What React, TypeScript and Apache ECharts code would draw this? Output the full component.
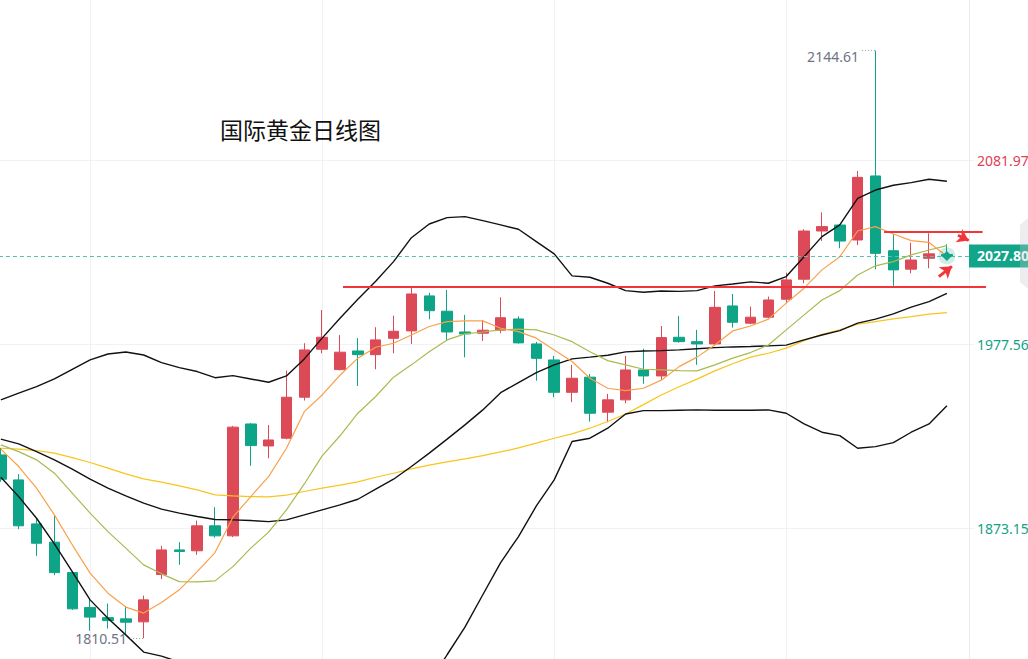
import React, { useEffect, useRef } from "react";
import * as echarts from "echarts";

// ---------- DATA ----------
const categories = [
  "09-26", "09-27", "09-28", "09-29", "10-02", "10-03", "10-04", "10-05", "10-06", "10-09",
  "10-10", "10-11", "10-12", "10-13", "10-16", "10-17", "10-18", "10-19", "10-20", "10-23",
  "10-24", "10-25", "10-26", "10-27", "10-30", "10-31", "11-01", "11-02", "11-03", "11-06",
  "11-07", "11-08", "11-09", "11-10", "11-13", "11-14", "11-15", "11-16", "11-17", "11-20",
  "11-21", "11-22", "11-23", "11-24", "11-27", "11-28", "11-29", "11-30", "12-01", "12-04",
  "12-05", "12-06", "12-07", "12-08", "",
];

const opens = [
  1914.7, 1900.5, 1875.5, 1865.1, 1847.8, 1827.9, 1822.2, 1821.5, 1819.8, 1846.7,
  1860.7, 1860.2, 1874.4, 1868.7, 1932.3, 1919.8, 1924.2, 1947.5, 1974.8, 1963.2,
  1973.8, 1971.7, 1981.0, 1985.2, 2005.1, 1996.4, 1984.6, 1983.9, 1985.6, 1992.0,
  1977.8, 1968.7, 1950.3, 1958.9, 1939.0, 1946.0, 1963.0, 1959.6, 1981.6, 1979.1,
  1977.8, 1999.4, 1989.6, 1993.0, 2003.2, 2014.6, 2042.0, 2045.4, 2036.9, 2073.3,
  2030.8, 2020.3, 2026.5, 2028.6,
];
const closes = [
  1900.9, 1874.4, 1864.5, 1847.8, 1827.2, 1822.5, 1820.5, 1819.6, 1832.3, 1860.7,
  1859.8, 1874.4, 1868.7, 1930.5, 1920.0, 1923.2, 1947.5, 1974.4, 1981.6, 1973.1,
  1971.7, 1980.1, 1985.0, 2006.2, 1996.7, 1984.6, 1983.5, 1985.6, 1992.7, 1978.4,
  1969.6, 1950.3, 1958.3, 1938.4, 1946.0, 1963.0, 1959.6, 1981.4, 1979.1, 1977.8,
  1998.6, 1990.1, 1993.0, 2002.8, 2014.2, 2042.0, 2044.5, 2036.3, 2072.5, 2029.3,
  2019.9, 2025.5, 2029.0, 2027.8,
];
const lows = [
  1899.4, 1872.5, 1857.3, 1846.3, 1826.6, 1814.7, 1816.0, 1812.4, 1810.51, 1844.1,
  1852.2, 1857.9, 1867.7, 1868.0, 1908.5, 1912.8, 1923.6, 1945.6, 1972.5, 1962.8,
  1953.9, 1963.4, 1972.5, 1977.8, 1991.8, 1980.1, 1970.2, 1979.5, 1983.9, 1978.0,
  1956.9, 1947.5, 1944.7, 1933.6, 1933.3, 1944.1, 1955.1, 1957.3, 1978.5, 1965.9,
  1977.4, 1987.1, 1989.0, 1992.5, 2000.9, 2012.3, 2036.3, 2032.2, 2034.0, 2020.3,
  2010.8, 2018.0, 2020.8, 2026.9,
];
const highs = [
  1918.7, 1903.8, 1878.7, 1880.1, 1848.4, 1832.9, 1830.2, 1828.5, 1834.7, 1863.0,
  1865.1, 1877.4, 1885.0, 1931.2, 1932.8, 1931.7, 1962.6, 1978.2, 1997.1, 1982.9,
  1981.1, 1987.3, 1993.9, 2010.4, 2006.9, 2008.5, 1994.3, 1991.4, 2004.3, 1993.5,
  1979.0, 1971.0, 1965.9, 1960.7, 1949.4, 1971.0, 1975.1, 1988.0, 1993.7, 1985.8,
  2007.9, 2006.2, 1999.0, 2004.7, 2018.3, 2043.0, 2052.6, 2045.6, 2076.1, 2144.61,
  2040.3, 2035.4, 2040.7, 2034.5,
];

// moving average (orange)
const maFast = [
  1918.0, 1908.1, 1895.8, 1880.6, 1863.6, 1847.5, 1836.1, 1828.2, 1824.8, 1830.8,
  1838.0, 1848.4, 1859.2, 1879.3, 1891.0, 1902.4, 1918.5, 1939.3, 1948.8, 1960.0,
  1969.7, 1975.9, 1978.2, 1982.9, 1987.7, 1990.5, 1990.9, 1990.9, 1986.7, 1984.8,
  1981.1, 1974.4, 1967.8, 1958.3, 1952.6, 1951.3, 1952.6, 1957.2, 1964.9, 1970.3,
  1977.2, 1985.2, 1988.0, 1991.9, 2001.0, 2009.5, 2019.9, 2027.4, 2042.0, 2044.5,
  2040.3, 2036.5, 2035.5, 2027.6,
];
// moving average (olive)
const maMid = [
  1920.4, 1916.6, 1911.9, 1904.3, 1893.0, 1881.6, 1871.1, 1861.7, 1852.2, 1847.1,
  1842.7, 1842.5, 1843.1, 1851.2, 1861.7, 1870.8, 1883.5, 1898.2, 1914.2, 1925.6,
  1938.4, 1947.9, 1958.9, 1965.9, 1973.4, 1980.1, 1983.5, 1984.6, 1985.8, 1986.2,
  1985.8, 1982.9, 1979.1, 1973.4, 1968.3, 1965.9, 1963.4, 1963.0, 1962.6, 1962.5,
  1965.9, 1969.7, 1972.9, 1977.2, 1985.8, 1994.3, 2002.8, 2008.1, 2017.0, 2022.2,
  2024.6, 2028.4, 2031.2, 2033.7,
];
// moving average (yellow)
const maSlow = [
  1918.5, 1918.0, 1917.2, 1915.7, 1913.2, 1910.4, 1907.2, 1903.9, 1901.1, 1899.2,
  1897.1, 1894.8, 1892.0, 1891.4, 1891.0, 1890.8, 1891.8, 1893.9, 1895.8, 1897.5,
  1899.4, 1902.0, 1904.3, 1906.8, 1908.9, 1910.7, 1912.5, 1914.3, 1916.4, 1918.7,
  1921.4, 1924.2, 1926.7, 1929.9, 1933.7, 1938.0, 1943.3, 1948.8, 1953.5, 1957.8,
  1962.5, 1966.5, 1970.3, 1972.5, 1975.4, 1979.7, 1983.3, 1985.8, 1989.0, 1990.5,
  1992.0, 1993.3, 1994.7, 1995.6,
];
// Bollinger bands (black)
const bollUpper = [
  1946.0, 1949.8, 1953.5, 1957.9, 1963.4, 1968.7, 1972.1, 1973.2, 1971.5, 1967.2,
  1964.3, 1962.1, 1958.6, 1959.8, 1957.9, 1956.0, 1959.6, 1969.3, 1981.1, 1992.4,
  2003.2, 2013.4, 2024.6, 2038.2, 2046.0, 2049.6, 2050.2, 2047.9, 2045.5, 2043.0,
  2036.0, 2029.0, 2016.5, 2015.7, 2012.3, 2008.1, 2007.2, 2007.9, 2007.7, 2008.1,
  2010.8, 2011.9, 2013.1, 2012.3, 2016.1, 2027.4, 2038.8, 2045.5, 2060.6, 2065.3,
  2068.0, 2069.5, 2071.4, 2070.3,
];
const bollMiddle = [
  1923.7, 1921.0, 1916.6, 1911.9, 1906.6, 1900.9, 1895.8, 1891.4, 1887.3, 1883.9,
  1881.6, 1879.7, 1878.0, 1877.8, 1877.4, 1876.8, 1877.8, 1880.6, 1883.5, 1886.3,
  1889.5, 1895.2, 1900.9, 1908.1, 1915.7, 1923.7, 1931.8, 1940.3, 1950.1, 1955.8,
  1961.5, 1965.9, 1969.3, 1970.3, 1971.4, 1973.3, 1973.8, 1974.0, 1974.4, 1975.1,
  1975.7, 1976.1, 1976.3, 1976.7, 1977.1, 1980.1, 1982.9, 1985.4, 1989.6, 1991.9,
  1994.9, 1998.7, 2001.9, 2006.6,
];
const bollLower = [
  1902.0, 1891.0, 1878.7, 1864.1, 1848.4, 1832.3, 1821.9, 1812.4, 1802.6, 1800.3,
  1797.0, 1796.0, 1796.0, 1795.0, 1796.0, 1797.0, 1796.0, 1792.0, 1786.0, 1780.0,
  1776.0, 1777.0, 1777.0, 1778.0, 1785.0, 1801.1, 1816.8, 1835.2, 1853.5, 1868.3,
  1885.7, 1900.5, 1922.3, 1924.2, 1929.9, 1938.0, 1939.9, 1939.9, 1940.1, 1940.3,
  1940.1, 1940.1, 1940.1, 1940.3, 1938.4, 1932.3, 1927.6, 1925.7, 1918.5, 1919.4,
  1921.7, 1927.6, 1932.3, 1942.7,
];

// price axis tick labels (visible ones)
const yTickValues = [1873.15, 1977.56, 2081.97];
const lastPrice = 2027.8;

// analyst annotations, x in candle-index units
const supportLine = [[19.17, 2010.4], [55.19, 2010.4]];
const resistanceLine = [[49.48, 2041.6], [55.0, 2041.6]];
const arrowDown = [[53.62, 2039.6], [54.22, 2036.6]];
const arrowUp = [[52.55, 2016.1], [53.28, 2021.9]];
const maxLeaderStart = 48.24;
const minLeaderStart = 7.24;
const verticalGridIdx = [5, 18, 31, 44];

// ---------- LAYOUT ----------
const W = 1028;
const H = 659;
const BAND = 17.85;
const X0 = 0.85;
const GRID_LEFT = X0 - BAND / 2;
const N_CAT = categories.length;
const GRID1_RIGHT_PX = GRID_LEFT + N_CAT * BAND;
const AXIS_X = 969;
const N_CAT2 = 62;
const GRID2_RIGHT_PX = GRID_LEFT + N_CAT2 * BAND;

const TICK_STEP = +(yTickValues[1] - yTickValues[0]).toFixed(2);
const TICK_MIN = +(yTickValues[0] - TICK_STEP).toFixed(2);
const TICK_MAX = +(yTickValues[yTickValues.length - 1] + TICK_STEP).toFixed(2);
const REF_PX = 160.7;
const PX_PER = 1.759;
const GRID_TOP = REF_PX - (TICK_MAX - yTickValues[2]) * PX_PER;
const GRID_BOTTOM = H - (REF_PX + (yTickValues[2] - TICK_MIN) * PX_PER);

const RED = "#dc4a58";
const GREEN = "#0ea487";
const LINE_RED = "#f2353a";
const GREY_TXT = "#6e7383";
const FONT = "'Noto Sans', sans-serif";

export default function App() {
  const ref = useRef<HTMLDivElement>(null);

  useEffect(() => {
    if (!ref.current) return;
    const chart = echarts.init(ref.current, undefined, { renderer: "svg" });

    const kData = opens.map((o, i) => [o, closes[i], lows[i], highs[i]]);
    const maxHigh = Math.max(...highs);
    const maxIdx = highs.indexOf(maxHigh);
    const minLow = Math.min(...lows);
    const minIdx = lows.indexOf(minLow);
    const lastIdx = closes.length - 1;

    const lineSeries = (name: string, data: number[], color: string, width = 1.2) => ({
      name,
      type: "line",
      data,
      symbol: "none",
      showSymbol: false,
      silent: true,
      smooth: false,
      z: 3,
      lineStyle: { color, width },
    });

    const isShownTick = (v: number) => yTickValues.some((t) => Math.abs(t - v) < 0.005);

    const option: any = {
      animation: false,
      backgroundColor: "#ffffff",
      title: {
        text: "国际黄金日线图",
        left: 220,
        top: 117,
        padding: 0,
        textStyle: {
          fontSize: 23,
          fontWeight: "normal",
          color: "#111111",
          fontFamily: "'Noto Sans CJK SC', sans-serif",
        },
      },
      grid: [
        {
          left: GRID_LEFT,
          right: W - GRID1_RIGHT_PX,
          top: GRID_TOP,
          bottom: GRID_BOTTOM,
          containLabel: false,
          outerBoundsMode: "none",
        },
        {
          left: GRID_LEFT,
          right: W - GRID2_RIGHT_PX,
          top: GRID_TOP,
          bottom: GRID_BOTTOM,
          containLabel: false,
          outerBoundsMode: "none",
        },
      ],
      xAxis: [
        { type: "category", data: categories, boundaryGap: true, show: false },
        { type: "value", gridIndex: 1, min: -0.5, max: N_CAT2 - 0.5, show: false },
      ],
      yAxis: [
        {
          type: "value",
          position: "right",
          min: TICK_MIN,
          max: TICK_MAX,
          interval: TICK_STEP,
          offset: AXIS_X - GRID1_RIGHT_PX,
          axisLine: { show: true, lineStyle: { color: "#ebecf0", width: 1 } },
          axisTick: { show: false },
          splitLine: { show: true, lineStyle: { color: "#f1f2f5", width: 1 } },
          axisLabel: {
            margin: 8,
            fontSize: 14,
            fontFamily: FONT,
            formatter: (v: number) => (isShownTick(Number(v)) ? Number(v).toFixed(2) : ""),
            color: (v: any) => (parseFloat(v) > lastPrice ? "#e0404f" : "#13a386"),
          },
        },
        {
          type: "value",
          gridIndex: 1,
          min: TICK_MIN,
          max: TICK_MAX,
          interval: TICK_STEP,
          show: false,
          splitLine: { show: false },
        },
      ],
      series: [
        {
          name: "grid-v",
          type: "line",
          data: [],
          silent: true,
          markLine: {
            silent: true,
            z: 1,
            symbol: "none",
            animation: false,
            label: { show: false },
            lineStyle: { color: "#f0f1f4", width: 1, type: "solid" },
            data: verticalGridIdx.map((i) => ({ xAxis: i })),
          },
        },
        {
          name: "K",
          type: "candlestick",
          data: kData,
          barWidth: 11,
          z: 2,
          itemStyle: {
            color: RED,
            color0: GREEN,
            borderColor: RED,
            borderColor0: GREEN,
            borderWidth: 1,
          },
          markLine: {
            silent: true,
            symbol: "none",
            animation: false,
            data: [{ yAxis: closes[lastIdx] }],
            lineStyle: { color: "#52c3ad", width: 1, type: [4, 3] },
            label: {
              show: true,
              position: "end",
              distance: AXIS_X - GRID1_RIGHT_PX,
              formatter: (p: any) => Number(p.value).toFixed(2),
              backgroundColor: "#12a589",
              color: "#ffffff",
              fontSize: 14,
              fontWeight: "bold",
              fontFamily: FONT,
              lineHeight: 14,
              padding: [5, 12, 4, 8],
            },
          },
          markPoint: {
            silent: true,
            animation: false,
            label: { show: false },
            data: [
              {
                coord: [lastIdx, closes[lastIdx]],
                symbol: "circle",
                symbolSize: 17,
                itemStyle: { color: "rgba(18,165,137,0.2)" },
              },
              {
                coord: [lastIdx, closes[lastIdx]],
                symbol: "diamond",
                symbolSize: [10, 10],
                itemStyle: { color: "#12a589" },
              },
            ],
          },
        },
        lineSeries("MA-slow", maSlow, "#f8c51c", 1.2),
        lineSeries("BOLL-U", bollUpper, "#111111", 1.4),
        lineSeries("BOLL-M", bollMiddle, "#111111", 1.4),
        lineSeries("BOLL-L", bollLower, "#111111", 1.4),
        lineSeries("MA-mid", maMid, "#a9ba4e", 1.2),
        lineSeries("MA-fast", maFast, "#f9a04a", 1.2),
        {
          name: "notes",
          type: "line",
          xAxisIndex: 1,
          yAxisIndex: 1,
          data: [],
          silent: true,
          z: 5,
          markLine: {
            silent: true,
            animation: false,
            symbol: "none",
            label: { show: false },
            data: [
              [
                { coord: supportLine[0], lineStyle: { color: LINE_RED, width: 2, type: "solid" } },
                { coord: supportLine[1] },
              ],
              [
                { coord: resistanceLine[0], lineStyle: { color: LINE_RED, width: 2, type: "solid" } },
                { coord: resistanceLine[1] },
              ],
              [
                { coord: arrowDown[0], symbol: "none", lineStyle: { color: LINE_RED, width: 3, type: "solid" } },
                { coord: arrowDown[1], symbol: "arrow", symbolSize: 11 },
              ],
              [
                { coord: arrowUp[0], symbol: "none", lineStyle: { color: LINE_RED, width: 3, type: "solid" } },
                { coord: arrowUp[1], symbol: "arrow", symbolSize: 11 },
              ],
              [
                {
                  coord: [maxLeaderStart, maxHigh],
                  lineStyle: { color: "#9a9eab", width: 1, type: [1, 2] },
                  label: {
                    show: true,
                    position: "start",
                    distance: 3,
                    formatter: maxHigh.toFixed(2),
                    color: GREY_TXT,
                    fontSize: 14,
                    fontFamily: FONT,
                    verticalAlign: "top",
                    lineHeight: 12,
                  },
                },
                { coord: [maxIdx, maxHigh] },
              ],
              [
                {
                  coord: [minLeaderStart, minLow],
                  lineStyle: { color: "#9a9eab", width: 1, type: [1, 2] },
                  label: {
                    show: true,
                    position: "start",
                    distance: 3,
                    formatter: minLow.toFixed(2),
                    color: GREY_TXT,
                    fontSize: 14,
                    fontFamily: FONT,
                    padding: [4, 0, 0, 0],
                  },
                },
                { coord: [minIdx, minLow] },
              ],
            ],
          },
        },
      ],
      graphic: [
        {
          type: "polygon",
          silent: true,
          z: 10,
          shape: {
            points: [
              [1028, 218],
              [1020, 225],
              [1020, 282],
              [1028, 289],
            ],
          },
          style: { fill: "rgba(200,200,208,0.32)" },
        },
      ],
    };

    chart.setOption(option);
    return () => chart.dispose();
  }, []);

  return (
    <div
      ref={ref}
      style={{
        position: "fixed",
        left: 0,
        top: 0,
        width: W,
        height: H,
        background: "#ffffff",
      }}
    />
  );
}
